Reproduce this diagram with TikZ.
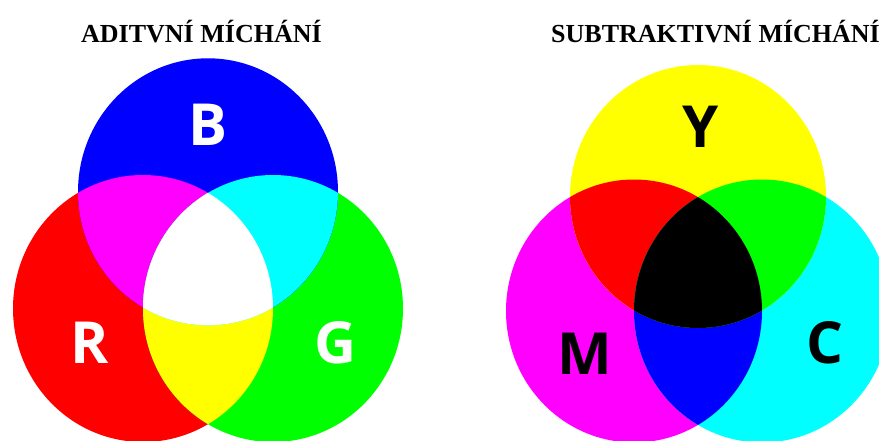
\documentclass[tikz,border=0pt]{standalone}
\usepackage{fontspec}
\setmainfont{Liberation Serif}
\newfontfamily\labelfont{Open Sans}
\definecolor{pR}{RGB}{255,0,0}
\definecolor{pG}{RGB}{0,255,0}
\definecolor{pB}{RGB}{0,0,255}
\definecolor{pC}{RGB}{0,255,255}
\definecolor{pM}{RGB}{255,0,255}
\definecolor{pY}{RGB}{255,255,0}
\definecolor{pK}{RGB}{0,0,0}
\definecolor{pW}{RGB}{255,255,255}
\begin{document}
\begin{tikzpicture}[x=1pt,y=-1pt,
  title/.style={font=\fontsize{26}{30}\selectfont\bfseries, anchor=base west, inner sep=0pt},
  lbl/.style={font=\labelfont\fontsize{58}{60}\selectfont\bfseries, anchor=base, inner sep=0pt},
  ea/.style={x radius=130pt, y radius=133.5pt},
  es/.style={x radius=128pt, y radius=131.5pt}]
\useasboundingbox (0,0) rectangle (879,440);
\fill[pW] (0,0) rectangle (879,440);
% ---------- additive ----------
\coordinate (cB) at (208,191.8);
\coordinate (cR) at (143,308.5);
\coordinate (cG) at (273,308.5);
\fill[pR] (cR) circle[ea];
\fill[pG] (cG) circle[ea];
\fill[pB] (cB) circle[ea];
\begin{scope}\clip (cR) circle[ea]; \fill[pM] (cB) circle[ea]; \fill[pY] (cG) circle[ea];\end{scope}
\begin{scope}\clip (cG) circle[ea]; \fill[pC] (cB) circle[ea];\end{scope}
\begin{scope}\clip (cR) circle[ea]; \clip (cG) circle[ea]; \fill[pW] (cB) circle[ea];\end{scope}
% ---------- subtractive ----------
\coordinate (cY) at (698,196.5);
\coordinate (cM) at (634,311);
\coordinate (cC) at (762,311);
\fill[pM] (cM) circle[es];
\fill[pC] (cC) circle[es];
\fill[pY] (cY) circle[es];
\begin{scope}\clip (cM) circle[es]; \fill[pR] (cY) circle[es]; \fill[pB] (cC) circle[es];\end{scope}
\begin{scope}\clip (cC) circle[es]; \fill[pG] (cY) circle[es];\end{scope}
\begin{scope}\clip (cM) circle[es]; \clip (cC) circle[es]; \fill[pK] (cY) circle[es];\end{scope}
% ---------- labels ----------
\node[title] (t1) at (81,42) {ADITVNÍ MÍCHÁNÍ};
\node[title] (t2) at (551,42) {SUBTRAKTIVNÍ MÍCHÁNÍ};
\node[lbl,pW] (lB) at (208,145) {B};
\node[lbl,pW] (lR) at (90,363) {R};
\node[lbl,pW] (lG) at (335,363) {G};
\node[lbl,pK] (lY) at (701,147) {Y};
\node[lbl,pK] (lM) at (585,374) {M};
\node[lbl,pK] (lC) at (825,363) {C};
\end{tikzpicture}
\end{document}
